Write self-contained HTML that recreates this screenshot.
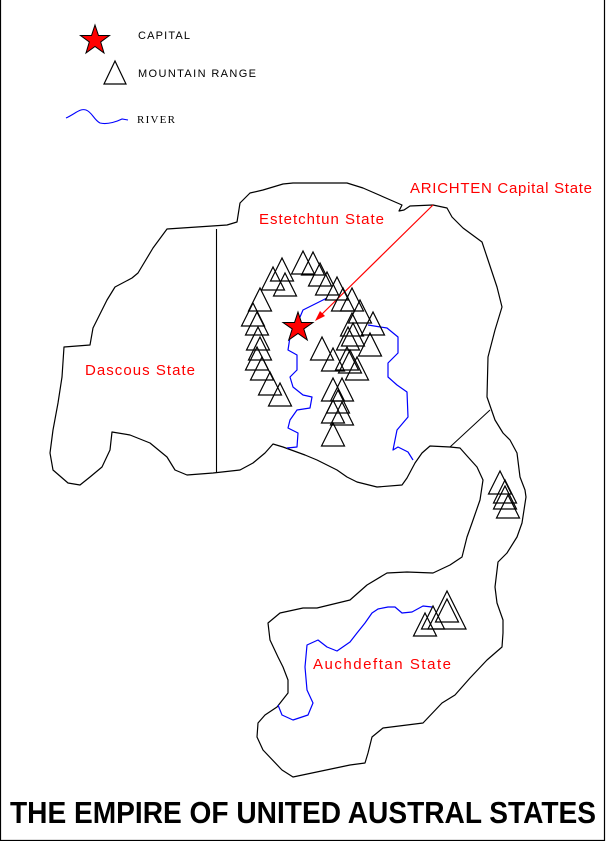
<!DOCTYPE html>
<html><head><meta charset="utf-8"><style>html,body{margin:0;padding:0;background:#fff}svg{display:block}</style></head>
<body>
<svg width="607" height="841" viewBox="0 0 607 841" xmlns="http://www.w3.org/2000/svg">
<defs>
<symbol id="t" overflow="visible"><polygon points="0,0 -11.5,23 11.5,23" fill="none" stroke="#000" stroke-width="1.2"/></symbol>
</defs>
<rect width="607" height="841" fill="#fff"/>
<path d="M0.5 0V840.5H604.5V0" fill="none" stroke="#000" stroke-width="1.2"/>

<!-- legend -->
<polygon points="95,25 98.5,35.5 109.5,35.5 100.7,42 104,53 95,46.5 86,53 89.3,42 80.5,35.5 91.5,35.5" fill="#f00" stroke="#000" stroke-width="1"/>
<polygon points="115,61 104,84 126,84" fill="none" stroke="#000" stroke-width="1.2"/>
<path d="M66,118 C75,114 80,108 86,110 C92,112 94,120 100,123 C108,125 118,121 122,119 L128,120" fill="none" stroke="#00f" stroke-width="1.1"/>
<g font-family="Liberation Sans, sans-serif" font-size="11" fill="#000">
<text x="138" y="39" textLength="52">CAPITAL</text>
<text x="138" y="77" textLength="118">MOUNTAIN RANGE</text>
<text x="137" y="123" font-family="Liberation Serif, serif" textLength="38">RIVER</text>
</g>

<!-- coastline north -->
<path d="M167,229 L197,227 L227,225 L237,222 L240,203 L250,193 L263,190 L283,184 L293,183 L347,183 L363,188 L402,205 L399,211 L404,210 L410,206 L433,205 L447,208 L452,217 L463,228 L482,242 L487,257 L497,287 L502,307 L495,330 L488,357 L487,397 L495,420 L503,433 L510,440 L517,453 L520,477 L525,490 L526,497 L522,523 L517,537 L507,553 L498,562 L495,587 L497,603 L503,620 L503,633 L502,647 L487,660 L470,678 L455,695 L442,703 L423,723 L383,728 L372,737 L368,753 L365,763 L350,765 L293,777 L282,770 L263,750 L257,737 L258,723 L265,715 L277,707 L288,693 L288,680 L283,667 L278,657 L270,640 L268,623 L280,613 L303,608 L317,608 L350,600 L367,585 L387,573 L407,572 L433,573 L450,565 L462,557 L467,537 L472,523 L480,500 L483,480 L477,467 L468,457 L460,448 L450,447 L430,446 L422,453 L415,463 L407,478 L402,485 L377,487 L357,482 L347,477 L337,470 L317,460 L305,455 L283,447 L273,444 L265,453 L253,463 L240,470 L213,473 L187,475 L175,470 L167,457 L150,443 L130,435 L112,432 L110,450 L102,467 L90,477 L80,485 L68,483 L53,470 L50,453 L53,430 L58,403 L62,377 L64,347 L90,345 L93,328 L107,300 L115,287 L132,278 L138,273 L153,248 Z" fill="none" stroke="#000" stroke-width="1.2" stroke-linejoin="round"/>
<line x1="216.5" y1="229" x2="216.5" y2="472" stroke="#000" stroke-width="1.1"/>
<line x1="450" y1="447" x2="490" y2="410" stroke="#000" stroke-width="1"/>

<!-- rivers -->
<g fill="none" stroke="#00f" stroke-width="1.2" stroke-linejoin="round">
<path d="M327,298 L313,305 L303,310 L300,317 L292,330 L290,337 L288,350 L297,355 L297,370 L290,377 L293,387 L303,395 L312,397 L310,408 L297,410 L290,420 L288,428 L298,433 L297,447 L287,448"/>
<path d="M368,325 L387,328 L398,337 L398,353 L388,363 L388,377 L397,385 L407,392 L408,417 L397,430 L393,450 L398,447 L408,452 L413,460"/>
<path d="M432,607 L423,606 L412,612 L402,613 L395,607 L388,607 L378,609 L372,613 L365,623 L357,633 L350,642 L337,651 L327,647 L318,640 L307,645 L305,667 L307,690 L313,703 L308,715 L293,720 L282,715 L278,705"/>
</g>

<!-- arrow -->
<line x1="433" y1="205" x2="318" y2="318" stroke="#f00" stroke-width="1.2"/>
<polygon points="315,321 320,311 325,316" fill="#f00"/>

<!-- mountains -->
<g>
<use href="#t" x="282" y="258"/><use href="#t" x="303" y="251"/><use href="#t" x="313" y="252"/>
<use href="#t" x="273" y="267"/><use href="#t" x="320" y="263"/><use href="#t" x="327" y="272"/>
<use href="#t" x="337" y="277"/><use href="#t" x="343" y="288"/><use href="#t" x="285" y="273"/>
<use href="#t" x="260" y="288"/><use href="#t" x="253" y="303"/><use href="#t" x="257" y="312"/>
<use href="#t" x="258" y="327"/><use href="#t" x="260" y="337"/><use href="#t" x="257" y="347"/>
<use href="#t" x="262" y="357"/><use href="#t" x="270" y="372"/><use href="#t" x="280" y="383"/>
<use href="#t" x="352" y="288"/><use href="#t" x="360" y="300"/><use href="#t" x="373" y="312"/>
<use href="#t" x="352" y="313"/><use href="#t" x="353" y="323"/><use href="#t" x="370" y="333"/>
<use href="#t" x="322" y="337"/><use href="#t" x="333" y="348"/><use href="#t" x="347" y="347"/>
<use href="#t" x="350" y="350"/><use href="#t" x="357" y="357"/><use href="#t" x="348" y="327"/>
<use href="#t" x="333" y="378"/><use href="#t" x="342" y="378"/><use href="#t" x="333" y="400"/>
<use href="#t" x="342" y="402"/><use href="#t" x="333" y="423"/><use href="#t" x="338" y="390"/>
<use href="#t" x="500" y="471"/><use href="#t" x="505" y="480"/><use href="#t" x="505" y="486"/><use href="#t" x="508" y="495"/>
<use href="#t" x="447" y="599"/><use href="#t" x="433" y="606"/><use href="#t" x="425" y="613"/>
</g>
<polygon points="447,591 428,629 466,629" fill="none" stroke="#000" stroke-width="1.2"/>

<!-- capital star -->
<polygon points="298,312 301.5,322.5 313,322.5 303.8,329 307.3,340 298,333.5 288.7,340 292.2,329 283,322.5 294.5,322.5" fill="#f00" stroke="#000" stroke-width="1"/>

<!-- labels -->
<g font-family="Liberation Sans, sans-serif" font-size="15" fill="#f00">
<text x="85" y="375" textLength="110">Dascous State</text>
<text x="259" y="224" textLength="125">Estetchtun State</text>
<text x="410" y="193" textLength="182">ARICHTEN Capital State</text>
<text x="313" y="669" textLength="138">Auchdeftan State</text>
</g>
<text x="10" y="823" font-family="Liberation Sans, sans-serif" font-weight="bold" font-size="31" fill="#000" textLength="586" lengthAdjust="spacingAndGlyphs">THE EMPIRE OF UNITED AUSTRAL STATES</text>
</svg>
</body></html>
